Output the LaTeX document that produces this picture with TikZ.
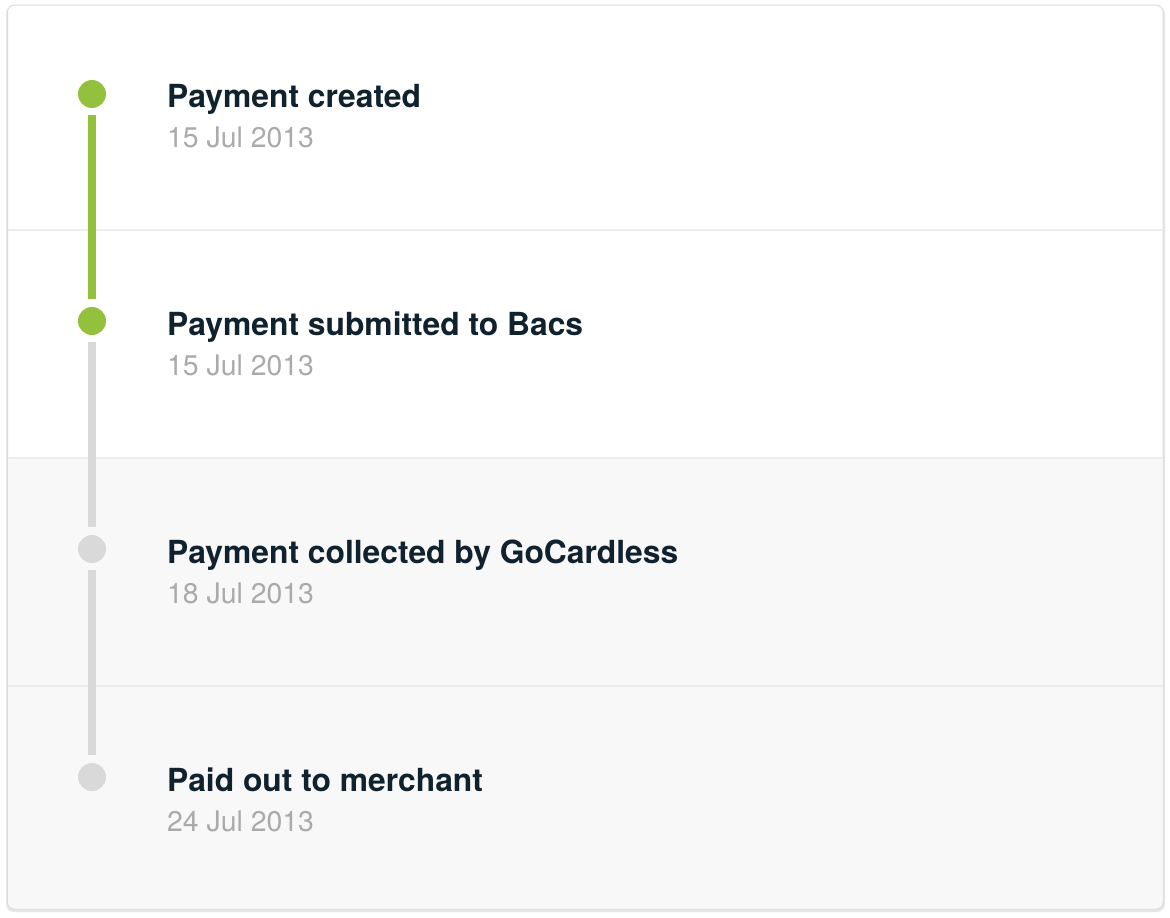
\documentclass[tikz,border=0pt]{standalone}
\usepackage{fontspec}
\setmainfont{TeX Gyre Heros}
\definecolor{cardborder}{HTML}{DCDCDC}
\definecolor{shadowc}{HTML}{E6E6E6}
\definecolor{rowgray}{HTML}{F8F8F8}
\definecolor{sepc}{HTML}{ECECEC}
\definecolor{doneg}{HTML}{93C13E}
\definecolor{todog}{HTML}{D9D9D9}
\definecolor{titlec}{HTML}{0F222E}
\definecolor{datec}{HTML}{AAAAAA}
\tikzset{
  dotdone/.style={circle,fill=doneg,inner sep=0pt,minimum size=28pt},
  dottodo/.style={circle,fill=todog,inner sep=0pt,minimum size=28pt},
  linkdone/.style={draw=doneg,line width=8pt,shorten >=8pt,shorten <=7pt},
  linktodo/.style={draw=todog,line width=8pt,shorten >=8pt,shorten <=7pt},
  titletext/.style={anchor=base west,inner sep=0pt,text=titlec,font=\fontsize{31.8}{36}\selectfont\bfseries},
  datetext/.style={anchor=base west,inner sep=0pt,text=datec,font=\fontsize{28.4}{33}\selectfont},
  sepline/.style={draw=sepc,line width=1.2pt}
}
\begin{document}
\begin{tikzpicture}[x=1pt,y=-1pt]
\useasboundingbox[fill=white] (0,0) rectangle (1170,918);
% shadow and card
\fill[shadowc,rounded corners=8pt] (6,6) rectangle (1165,912);
\fill[white,draw=cardborder,line width=1pt,rounded corners=7pt] (7.5,5) rectangle (1163,909);
\begin{scope}
  \clip[rounded corners=7pt] (8,5.5) rectangle (1162.5,908.5);
  \fill[rowgray] (0,458) rectangle (1170,918);
\end{scope}
\draw[sepline] (8,230) -- (1162.5,230);
\draw[sepline] (8,458) -- (1162.5,458);
\draw[sepline] (8,686) -- (1162.5,686);
% dots
\node[dotdone] (d1) at (92,94) {};
\node[dotdone] (d2) at (92,321) {};
\node[dottodo] (d3) at (92,549) {};
\node[dottodo] (d4) at (92,777) {};
% links
\draw[linkdone] (d1.south) -- (d2.north);
\draw[linktodo] (d2.south) -- (d3.north);
\draw[linktodo] (d3.south) -- (d4.north);
% texts
\node[titletext] (t1) at (167,107) {Payment created};
\node[datetext] (s1) at (167,147) {15 Jul 2013};
\node[titletext] (t2) at (167,335) {Payment submitted to Bacs};
\node[datetext] (s2) at (167,375) {15 Jul 2013};
\node[titletext] (t3) at (167,563) {Payment collected by GoCardless};
\node[datetext] (s3) at (167,603) {18 Jul 2013};
\node[titletext] (t4) at (167,791) {Paid out to merchant};
\node[datetext] (s4) at (167,831) {24 Jul 2013};
\end{tikzpicture}
\end{document}
